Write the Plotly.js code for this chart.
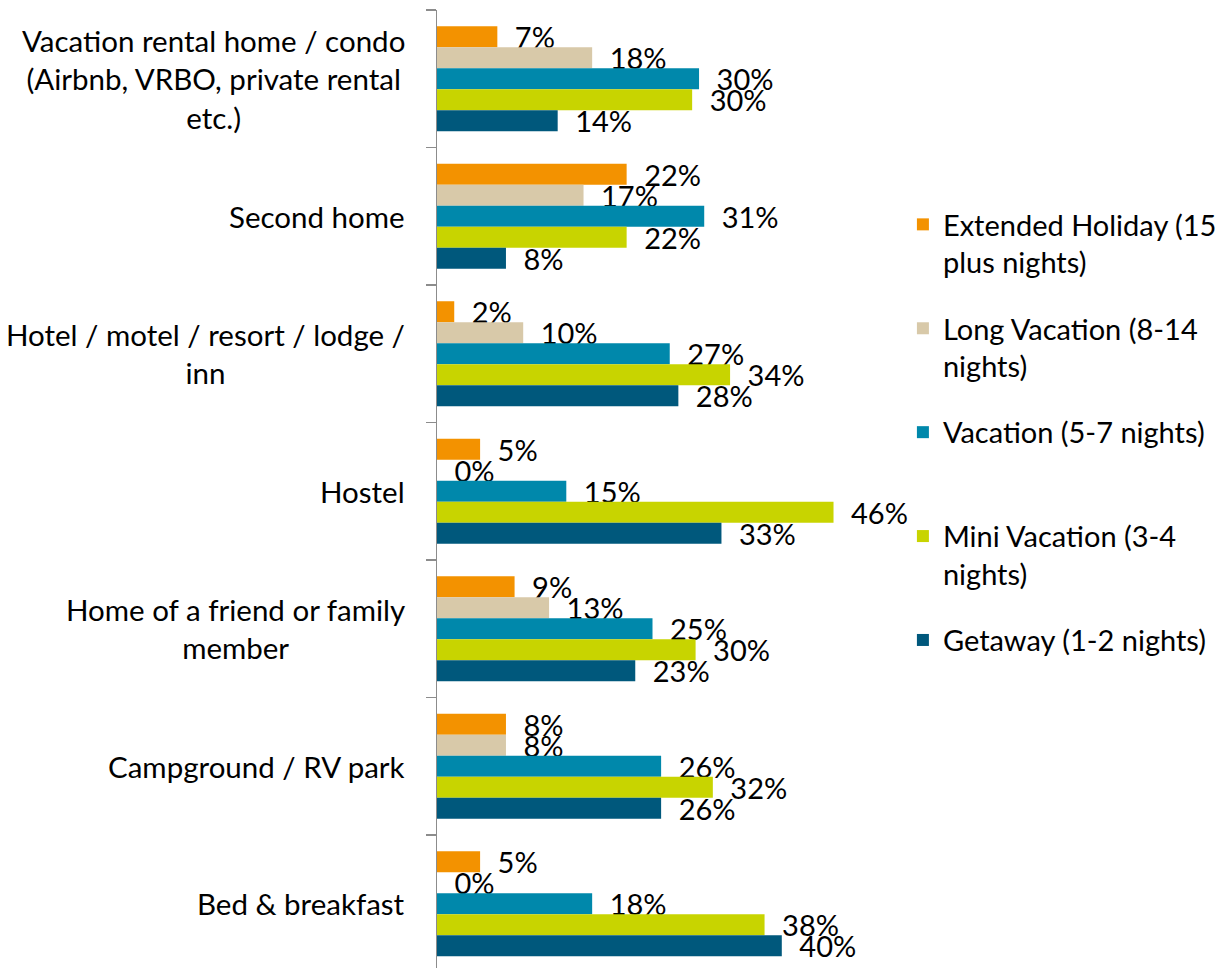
<!DOCTYPE html>
<html>
<head>
<meta charset="utf-8">
<script src="https://cdn.plot.ly/plotly-3.0.1.min.js"></script>
<style>html,body{margin:0;padding:0;background:#fff;}#chart{width:1228px;height:968px;}</style>
</head>
<body>
<div id="chart"></div>
<script>
const categories = [
  "Vacation rental home / condo<br>(Airbnb, VRBO, private rental<br>etc.)",
  "Second home",
  "Hotel / motel / resort / lodge /<br>inn",
  "Hostel",
  "Home of a friend or family<br>member",
  "Campground / RV park",
  "Bed & breakfast"
];
const seriesNames = [
  "Extended Holiday (15<br>plus nights)",
  "Long Vacation (8-14<br>nights)",
  "Vacation (5-7 nights)<br> ",
  "Mini Vacation (3-4<br>nights)",
  "Getaway (1-2 nights)<br> "
];
const extendedHoliday = [7, 22, 2, 5, 9, 8, 5];
const longVacation    = [18, 17, 10, 0, 13, 8, 0];
const vacation        = [30.4, 31, 27, 15, 25, 26, 18];
const miniVacation    = [29.6, 22, 34, 46, 30, 32, 38];
const getaway         = [14, 8, 28, 33, 23, 26, 40];
const seriesValues = [extendedHoliday, longVacation, vacation, miniVacation, getaway];
const colors = ["#F39200", "#D8C9A9", "#0088AB", "#C8D400", "#00587C"];

const FONT = "Lato, 'Noto Sans', sans-serif";

const traces = seriesValues.map((vals, i) => ({
  type: "bar",
  orientation: "h",
  name: seriesNames[i],
  legendgroup: "g" + i,
  x: vals,
  y: categories,
  marker: {color: colors[i]},
  texttemplate: "\u2002%{x:.0f}%",
  textposition: "outside",
  constraintext: "none",
  cliponaxis: false,
  textfont: {family: FONT, size: 29, color: "#000"},
  hoverinfo: "none"
}));

const annotations = categories.map(c => ({
  xref: "paper", yref: "y",
  x: 0, y: c,
  xanchor: "right", yanchor: "middle",
  xshift: -30,
  align: "center",
  showarrow: false,
  text: c,
  font: {family: FONT, size: 29.5, color: "#000"}
}));

const layout = {
  width: 1228, height: 968,
  margin: {l: 437, r: 360, t: 10, b: 0},
  paper_bgcolor: "#fff",
  plot_bgcolor: "#fff",
  barmode: "group",
  bargap: 0.236,
  bargroupgap: 0,
  showlegend: true,
  legend: {
    x: 1.081, xanchor: "left",
    y: 0.8027, yanchor: "top",
    font: {family: FONT, size: 29, color: "#000"},
    traceorder: "grouped",
    tracegroupgap: 25.5,
    valign: "top",
    bgcolor: "rgba(0,0,0,0)"
  },
  xaxis: {
    range: [0, 50],
    showgrid: false, zeroline: false, showline: false,
    showticklabels: false, ticks: ""
  },
  yaxis: {
    type: "category",
    range: [6.467, -0.5],
    showgrid: false, zeroline: false,
    showline: true, linecolor: "#8C8C8C", linewidth: 1.5,
    ticks: "outside", tickson: "boundaries", ticklen: 10,
    tickcolor: "#8C8C8C", tickwidth: 1.5,
    showticklabels: false
  },
  annotations: annotations
};

Plotly.newPlot("chart", traces, layout, {displayModeBar: false, staticPlot: true});
</script>
</body>
</html>
